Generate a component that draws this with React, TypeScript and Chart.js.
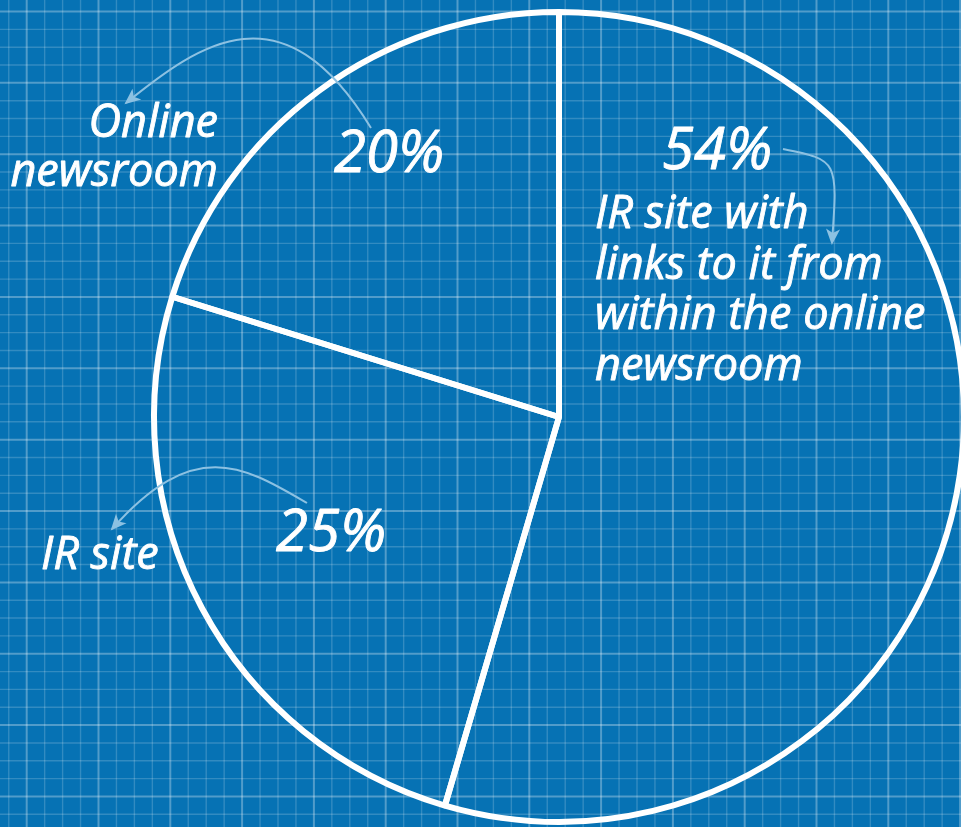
import React, { useEffect, useRef } from "react";
import { Chart, registerables } from "chart.js";

Chart.register(...registerables);

// ---- data ----
const categories: string[] = [
  "IR site with links to it from within the online newsroom",
  "IR site",
  "Online newsroom",
];
const categoryLines: string[][] = [
  ["IR site with", "links to it from", "within the online", "newsroom"],
  ["IR site"],
  ["Online", "newsroom"],
];
const shares: number[] = [54, 25, 20];

// ---- layout (offsets relative to the pie centre, px) ----
const W = 961;
const H = 827;
const CX = 559;
const CY = 417;
const RADIUS = 405;

type Anno = {
  pct: { x: number; y: number };
  label: { x: number; y: number; align: CanvasTextAlign; lh: number };
  arrow: number[]; // p0, c1, c2, p2 (relative to centre)
};
const annos: Anno[] = [
  {
    pct: { x: 158, y: -248 },
    label: { x: 36, y: -189, align: "left", lh: 50.7 },
    arrow: [224, -268, 279, -257, 279, -257, 273, -174],
  },
  {
    pct: { x: -228, y: 134 },
    label: { x: -518, y: 152, align: "left", lh: 50 },
    arrow: [-252, 86, -314, 50, -364, 18, -447, 112],
  },
  {
    pct: { x: -170, y: -245 },
    label: { x: -341, y: -280, align: "right", lh: 49 },
    arrow: [-188, -289, -276, -433, -359, -374, -433, -314],
  },
];

const gridPlugin = {
  id: "blueprint",
  beforeDraw(chart: any) {
    const ctx: CanvasRenderingContext2D = chart.ctx;
    ctx.save();
    ctx.fillStyle = "#0672b4";
    ctx.fillRect(0, 0, chart.width, chart.height);
    for (let k = -2; k < 60; k++) {
      const x = 26.7 + 17.95 * k;
      if (x < -2 || x > chart.width + 2) continue;
      const major = ((k % 4) + 4) % 4 === 0;
      ctx.strokeStyle = major ? "rgba(255,255,255,0.30)" : "rgba(255,255,255,0.18)";
      ctx.lineWidth = major ? 2 : 1.4;
      ctx.beginPath();
      ctx.moveTo(x, 0);
      ctx.lineTo(x, chart.height);
      ctx.stroke();
    }
    for (let k = -2; k < 60; k++) {
      const y = 11.5 + 17.84 * k;
      if (y < -2 || y > chart.height + 2) continue;
      const major = ((k % 4) + 4) % 4 === 0;
      ctx.strokeStyle = major ? "rgba(255,255,255,0.30)" : "rgba(255,255,255,0.18)";
      ctx.lineWidth = major ? 2 : 1.4;
      ctx.beginPath();
      ctx.moveTo(0, y);
      ctx.lineTo(chart.width, y);
      ctx.stroke();
    }
    ctx.restore();
  },
  afterDraw(chart: any) {
    const ctx: CanvasRenderingContext2D = chart.ctx;
    const meta = chart.getDatasetMeta(0);
    const arc = meta.data[0];
    const cx = arc.x;
    const cy = arc.y;
    const FONT = '"Open Sans", "Noto Sans", sans-serif';
    ctx.save();
    annos.forEach((a, i) => {
      const p = a.arrow;
      ctx.strokeStyle = "#8cc1e2";
      ctx.fillStyle = "#8cc1e2";
      ctx.lineWidth = 2;
      ctx.beginPath();
      ctx.moveTo(cx + p[0], cy + p[1]);
      ctx.bezierCurveTo(cx + p[2], cy + p[3], cx + p[4], cy + p[5], cx + p[6], cy + p[7]);
      ctx.stroke();
      const tx = cx + p[6];
      const ty = cy + p[7];
      let dx = p[6] - p[4];
      let dy = p[7] - p[5];
      const len = Math.hypot(dx, dy) || 1;
      dx /= len;
      dy /= len;
      const hl = 14;
      const hw = 7;
      ctx.beginPath();
      ctx.moveTo(tx + dx * 2, ty + dy * 2);
      ctx.lineTo(tx - dx * hl - dy * hw, ty - dy * hl + dx * hw);
      ctx.lineTo(tx - dx * (hl - 4), ty - dy * (hl - 4));
      ctx.lineTo(tx - dx * hl + dy * hw, ty - dy * hl - dx * hw);
      ctx.closePath();
      ctx.fill();

      ctx.fillStyle = "#ffffff";
      ctx.strokeStyle = "#ffffff";
      ctx.lineWidth = 0.9;
      ctx.lineJoin = "round";
      ctx.textBaseline = "alphabetic";
      ctx.textAlign = "center";
      ctx.font = `italic 400 58px ${FONT}`;
      const pct = `${shares[i]}%`;
      ctx.fillText(pct, cx + a.pct.x, cy + a.pct.y);
      ctx.strokeText(pct, cx + a.pct.x, cy + a.pct.y);

      ctx.textAlign = a.label.align;
      ctx.font = `italic 400 45px ${FONT}`;
      categoryLines[i].forEach((line, j) => {
        const yy = cy + a.label.y + j * a.label.lh;
        ctx.fillText(line, cx + a.label.x, yy);
        ctx.strokeText(line, cx + a.label.x, yy);
      });
    });
    ctx.restore();
  },
};

export default function App() {
  const ref = useRef<HTMLCanvasElement | null>(null);
  useEffect(() => {
    if (!ref.current) return;
    const chart = new Chart(ref.current, {
      type: "pie",
      data: {
        labels: categories,
        datasets: [
          {
            data: shares,
            backgroundColor: "rgba(0,0,0,0)",
            borderColor: "#ffffff",
            borderWidth: 6,
            hoverBorderWidth: 6,
            borderAlign: "center",
            clip: false as any,
          } as any,
        ],
      },
      options: {
        responsive: false,
        animation: false,
        radius: RADIUS,
        layout: {
          padding: {
            left: 2 * CX - W,
            right: 0,
            top: 2 * CY - H,
            bottom: 0,
          },
        },
        plugins: {
          legend: { display: false },
          tooltip: { enabled: false },
        },
        events: [],
      } as any,
      plugins: [gridPlugin],
    });
    return () => chart.destroy();
  }, []);
  return (
    <div style={{ position: "absolute", left: 0, top: 0, width: W, height: H, overflow: "hidden" }}>
      <canvas ref={ref} width={W} height={H} style={{ display: "block", width: W, height: H }} />
    </div>
  );
}
